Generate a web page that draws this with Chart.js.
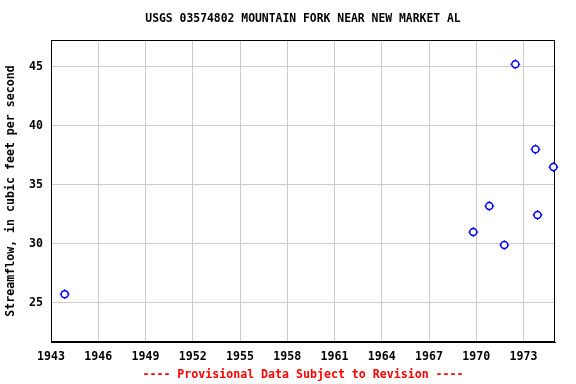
<!DOCTYPE html>
<html>
<head>
<meta charset="utf-8">
<script src="https://cdn.jsdelivr.net/npm/chart.js@4/dist/chart.umd.min.js"></script>
<style>
  html, body { margin: 0; padding: 0; background: #fff; }
  #wrap { width: 576px; height: 384px; }
</style>
</head>
<body>
<div id="wrap"><canvas id="chart" width="576" height="384"></canvas></div>
<script>
// ─── Data ────────────────────────────────────────────────
const years = [1943.87, 1969.81, 1970.83, 1971.78, 1972.48, 1973.76, 1973.89, 1974.9];
const flows = [25.75, 31.0, 33.2, 29.9, 45.2, 38.0, 32.45, 36.5];
const xTicks = [1943, 1946, 1949, 1952, 1955, 1958, 1961, 1964, 1967, 1970, 1973];
const yTicks = [25, 30, 35, 40, 45];

const titleText = 'USGS 03574802 MOUNTAIN FORK NEAR NEW MARKET AL';
const footerText = '---- Provisional Data Subject to Revision ----';
const MONO = '"DejaVu Sans Mono", "Liberation Mono", monospace';

const points = years.map((x, i) => ({ x, y: flows[i] }));

// ─── Frame, title and footer ─────────────────────────────
const framePlugin = {
  id: 'frame',
  beforeDatasetsDraw(chart) {
    const { ctx, chartArea: a } = chart;
    ctx.save();
    ctx.strokeStyle = '#000';
    ctx.lineWidth = 1;
    ctx.strokeRect(a.left + 0.5, a.top + 0.5, a.right - a.left - 1, a.bottom - a.top - 1);
    ctx.restore();
  },
  afterDraw(chart) {
    const { ctx, chartArea: a } = chart;
    const cx = (a.left + a.right) / 2;
    ctx.save();
    ctx.textAlign = 'center';
    ctx.textBaseline = 'middle';
    ctx.fillStyle = '#000';
    ctx.font = 'bold 11.4px ' + MONO;
    ctx.fillText(titleText, cx, 19);
    ctx.fillStyle = '#ff0000';
    ctx.font = 'bold 11.6px ' + MONO;
    ctx.fillText(footerText, cx, 375);
    ctx.restore();
  }
};

new Chart(document.getElementById('chart'), {
  type: 'scatter',
  data: {
    datasets: [
      {
        data: points,
        pointStyle: 'circle',
        pointRadius: 3.5,
        pointHoverRadius: 3.5,
        borderWidth: 1.5,
        borderColor: '#0000ff',
        backgroundColor: '#ffffff',
        clip: false
      },
      {
        data: points,
        pointStyle: 'cross',
        pointRadius: 5,
        pointHoverRadius: 5,
        borderWidth: 1,
        borderColor: '#0000ff',
        clip: false
      }
    ]
  },
  options: {
    responsive: false,
    animation: false,
    events: [],
    layout: { padding: { top: 40, right: 21, bottom: 0, left: 0 } },
    plugins: { legend: { display: false }, tooltip: { enabled: false } },
    scales: {
      x: {
        type: 'linear',
        min: 1943,
        max: 1975,
        afterBuildTicks: s => { s.ticks = xTicks.map(v => ({ value: v })); },
        afterFit: s => { s.height = 42; },
        grid: { color: '#cccccc', drawTicks: false },
        border: { color: '#000', width: 1 },
        ticks: {
          padding: 8,
          color: '#000',
          maxRotation: 0,
          autoSkip: false,
          font: { family: MONO, size: 11.6, weight: 'bold' },
          callback: v => String(v)
        }
      },
      y: {
        min: 21.7,
        max: 47.25,
        afterBuildTicks: s => { s.ticks = yTicks.map(v => ({ value: v })); },
        afterFit: s => { s.width = 51; },
        grid: { color: '#cccccc', drawTicks: false },
        border: { color: '#000', width: 1 },
        ticks: {
          padding: 8,
          color: '#000',
          font: { family: MONO, size: 11.6, weight: 'bold' },
          callback: v => String(v)
        },
        title: {
          display: true,
          text: 'Streamflow, in cubic feet per second',
          color: '#000',
          padding: { top: 4, bottom: 0 },
          font: { family: MONO, size: 11.6, weight: 'bold' }
        }
      }
    }
  },
  plugins: [framePlugin]
});
</script>
</body>
</html>
